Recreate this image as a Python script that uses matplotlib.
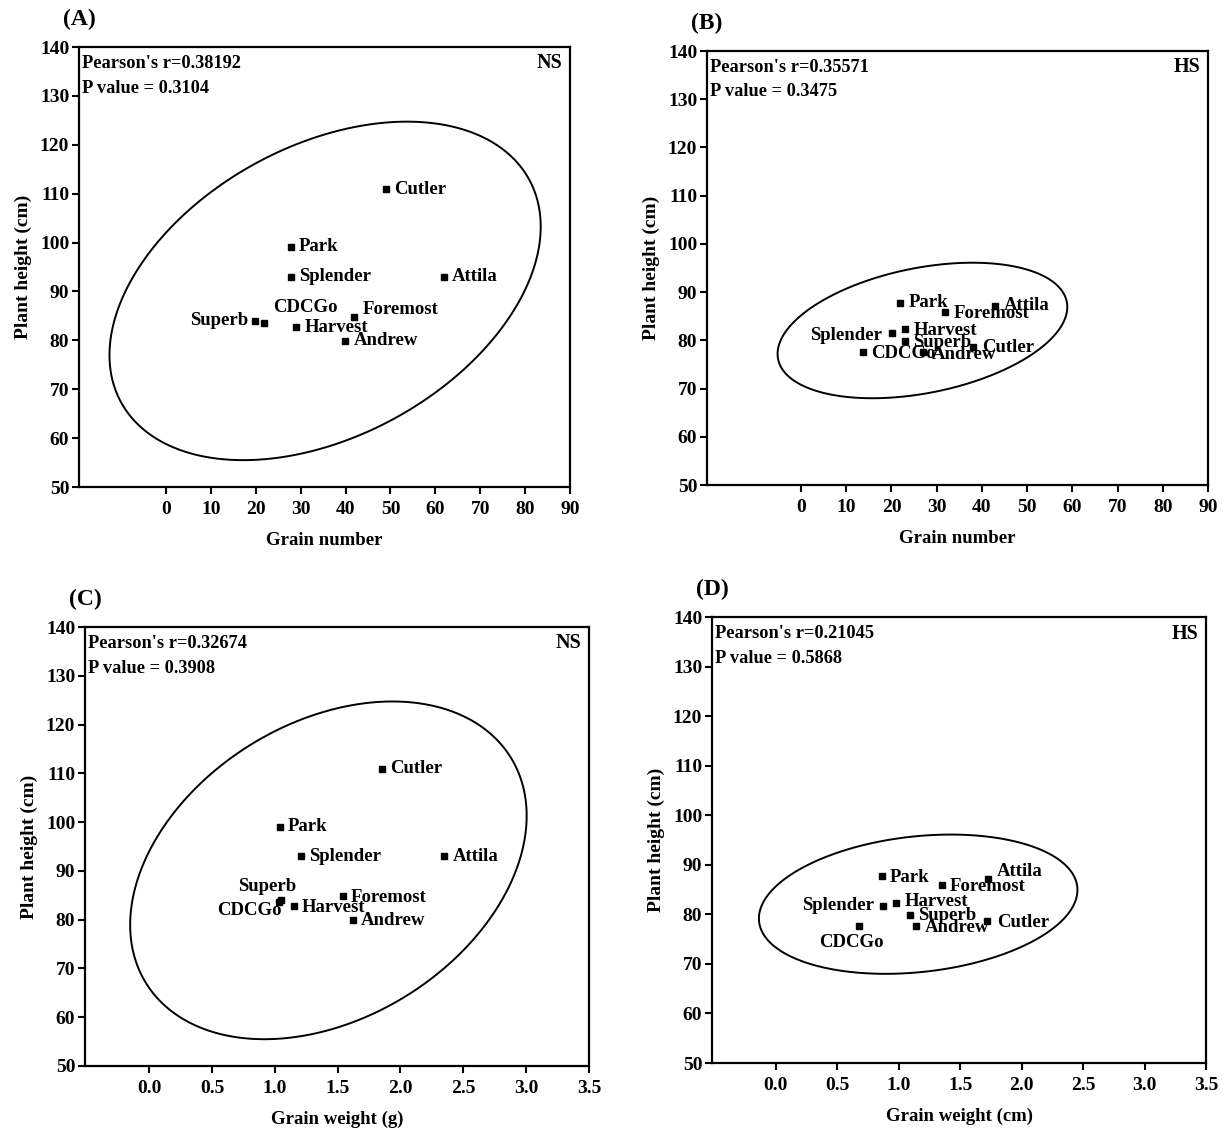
import numpy as np
import matplotlib
matplotlib.use("Agg")
import matplotlib.pyplot as plt
from matplotlib.patches import Polygon

plt.rcParams['font.family'] = ['Liberation Serif', 'DejaVu Serif']
plt.rcParams['font.weight'] = 'bold'

# ---- data -------------------------------------------------------------
cultivars = ["Cutler", "Park", "Splender", "Attila", "Foremost",
             "CDCGo", "Superb", "Harvest", "Andrew"]

# plant height (cm)
height_ns = [110.9, 99.1, 93.0, 93.0, 84.8, 83.6, 84.0, 82.7, 79.9]
height_hs = [78.6, 87.8, 81.6, 87.2, 85.9, 77.6, 79.8, 82.3, 77.6]

# grain number
grain_num_ns = [49.0, 27.8, 27.8, 61.9, 41.9, 21.8, 19.8, 29.0, 39.9]
grain_num_hs = [38.1, 21.9, 20.1, 42.9, 31.9, 13.7, 23.0, 23.0, 27.0]

# grain weight
grain_wt_ns = [1.85, 1.04, 1.21, 2.35, 1.54, 1.03, 1.05, 1.15, 1.62]
grain_wt_hs = [1.72, 0.86, 0.87, 1.73, 1.35, 0.68, 1.09, 0.98, 1.14]

pearson_r = ["0.38192", "0.35571", "0.32674", "0.21045"]
p_values = ["0.3104", "0.3475", "0.3908", "0.5868"]
conditions = ["NS", "HS", "NS", "HS"]
panel_tags = ["(A)", "(B)", "(C)", "(D)"]
x_titles = ["Grain number", "Grain number", "Grain weight (g)", "Grain weight (cm)"]
y_title = "Plant height (cm)"

num_ticks = [0, 10, 20, 30, 40, 50, 60, 70, 80, 90]
wt_ticks = [0.0, 0.5, 1.0, 1.5, 2.0, 2.5, 3.0, 3.5]
height_ticks = [50, 60, 70, 80, 90, 100, 110, 120, 130, 140]

# label placement per panel: (dx, dy) offset in points and horizontal alignment
label_pos_A = {
    "Cutler": (6, 0, "left"), "Park": (6, 0, "left"), "Splender": (6, 0, "left"),
    "Attila": (6, 0, "left"), "Foremost": (6, 5, "left"), "CDCGo": (30, 11, "center"),
    "Superb": (-5, 0, "right"), "Harvest": (6, 0, "left"), "Andrew": (6, 0, "left"),
}
label_pos_B = {
    "Cutler": (6, 0, "left"), "Park": (6, 0, "left"), "Splender": (-7, -2, "right"),
    "Attila": (6, 0, "left"), "Foremost": (6, -1, "left"), "CDCGo": (6, -1, "left"),
    "Superb": (6, -1, "left"), "Harvest": (6, -1, "left"), "Andrew": (6, -2, "left"),
}
label_pos_C = {
    "Cutler": (6, 0, "left"), "Park": (6, 0, "left"), "Splender": (6, 0, "left"),
    "Attila": (6, 0, "left"), "Foremost": (6, -1, "left"), "CDCGo": (2, -6, "right"),
    "Superb": (-10, 10, "center"), "Harvest": (6, -1, "left"), "Andrew": (6, 0, "left"),
}
label_pos_D = {
    "Cutler": (7, -1, "left"), "Park": (6, -1, "left"), "Splender": (-6, 1, "right"),
    "Attila": (6, 5, "left"), "Foremost": (6, -1, "left"), "CDCGo": (-6, -12, "center"),
    "Superb": (6, 0, "left"), "Harvest": (6, 1, "left"), "Andrew": (6, -1, "left"),
}

W, H = 1225, 1129
# axes boxes in pixels: left, right, top, bottom
boxes = [(79, 570, 47, 487), (707, 1208, 51, 485),
         (85, 589, 627, 1066), (712, 1206, 617, 1063)]
xlims = [(-19.4, 90), (-20.8, 90), (-0.51, 3.5), (-0.52, 3.5)]

panels = [
    (grain_num_ns, height_ns, label_pos_A, num_ticks, None),
    (grain_num_hs, height_hs, label_pos_B, num_ticks, None),
    (grain_wt_ns, height_ns, label_pos_C, wt_ticks, "%.1f"),
    (grain_wt_hs, height_hs, label_pos_D, wt_ticks, "%.1f"),
]


def prediction_ellipse(x, y, level=0.95, npts=400):
    """Bivariate prediction ellipse for a new observation."""
    x = np.asarray(x, float)
    y = np.asarray(y, float)
    n = len(x)
    mx, my = x.mean(), y.mean()
    sx, sy = x.std(ddof=1), y.std(ddof=1)
    r = np.corrcoef(x, y)[0, 1]
    m = n - 2
    f_crit = (m / 2.0) * ((1 - level) ** (-2.0 / m) - 1.0)   # F(2, m) quantile
    k = np.sqrt(2.0 * (n - 1) / m * f_crit * (n + 1) / n)
    t = np.linspace(0, 2 * np.pi, npts, endpoint=False)
    ex = mx + k * sx * np.cos(t)
    ey = my + k * sy * (r * np.cos(t) + np.sqrt(1 - r ** 2) * np.sin(t))
    return np.column_stack([ex, ey])


fig = plt.figure(figsize=(W / 100, H / 100), dpi=100)

for i, (xs, ys, lpos, xticks, fmt) in enumerate(panels):
    l, r_, t, b = boxes[i]
    ax = fig.add_axes([l / W, 1 - b / H, (r_ - l) / W, (b - t) / H])
    ax.set_xlim(*xlims[i])
    ax.set_ylim(50, 140)
    ax.set_xticks(xticks)
    if fmt:
        ax.set_xticklabels([fmt % v for v in xticks])
    ax.set_yticks(height_ticks)
    for sp in ax.spines.values():
        sp.set_linewidth(1.6)
    ax.tick_params(direction="out", length=5, width=1.5, labelsize=14)
    ax.tick_params(axis="x", pad=5)
    ax.tick_params(axis="y", pad=2)
    for lab in ax.get_xticklabels() + ax.get_yticklabels():
        lab.set_fontweight("bold")

    ax.add_patch(Polygon(prediction_ellipse(xs, ys), closed=True, fill=False,
                         edgecolor="black", lw=1.4))

    ax.plot(xs, ys, linestyle="none", marker="s", markersize=4.5, color="black")
    for name, xv, yv in zip(cultivars, xs, ys):
        dx, dy, ha = lpos[name]
        ax.annotate(name, (xv, yv), xytext=(dx, dy), textcoords="offset points",
                    ha=ha, va="center", fontsize=13.5, fontweight="bold")

    ax.text(0.006, 0.963, "Pearson's r=" + pearson_r[i], transform=ax.transAxes,
            ha="left", va="center", fontsize=13.2, fontweight="bold")
    ax.text(0.006, 0.906, "P value = " + p_values[i], transform=ax.transAxes,
            ha="left", va="center", fontsize=13.2, fontweight="bold")
    ax.text(0.985, 0.963, conditions[i], transform=ax.transAxes,
            ha="right", va="center", fontsize=14.5, fontweight="bold")

    ax.set_xlabel(x_titles[i], fontsize=13.5, fontweight="bold", labelpad=10)
    ax.set_ylabel(y_title, fontsize=14, fontweight="bold", labelpad=6)

    # panel tag above the top-left corner
    fig.text((l - 16) / W, 1 - (t - 28) / H, panel_tags[i], ha="left", va="center",
             fontsize=17, fontweight="bold")

fig.savefig("out.png", dpi=100, facecolor="white")
